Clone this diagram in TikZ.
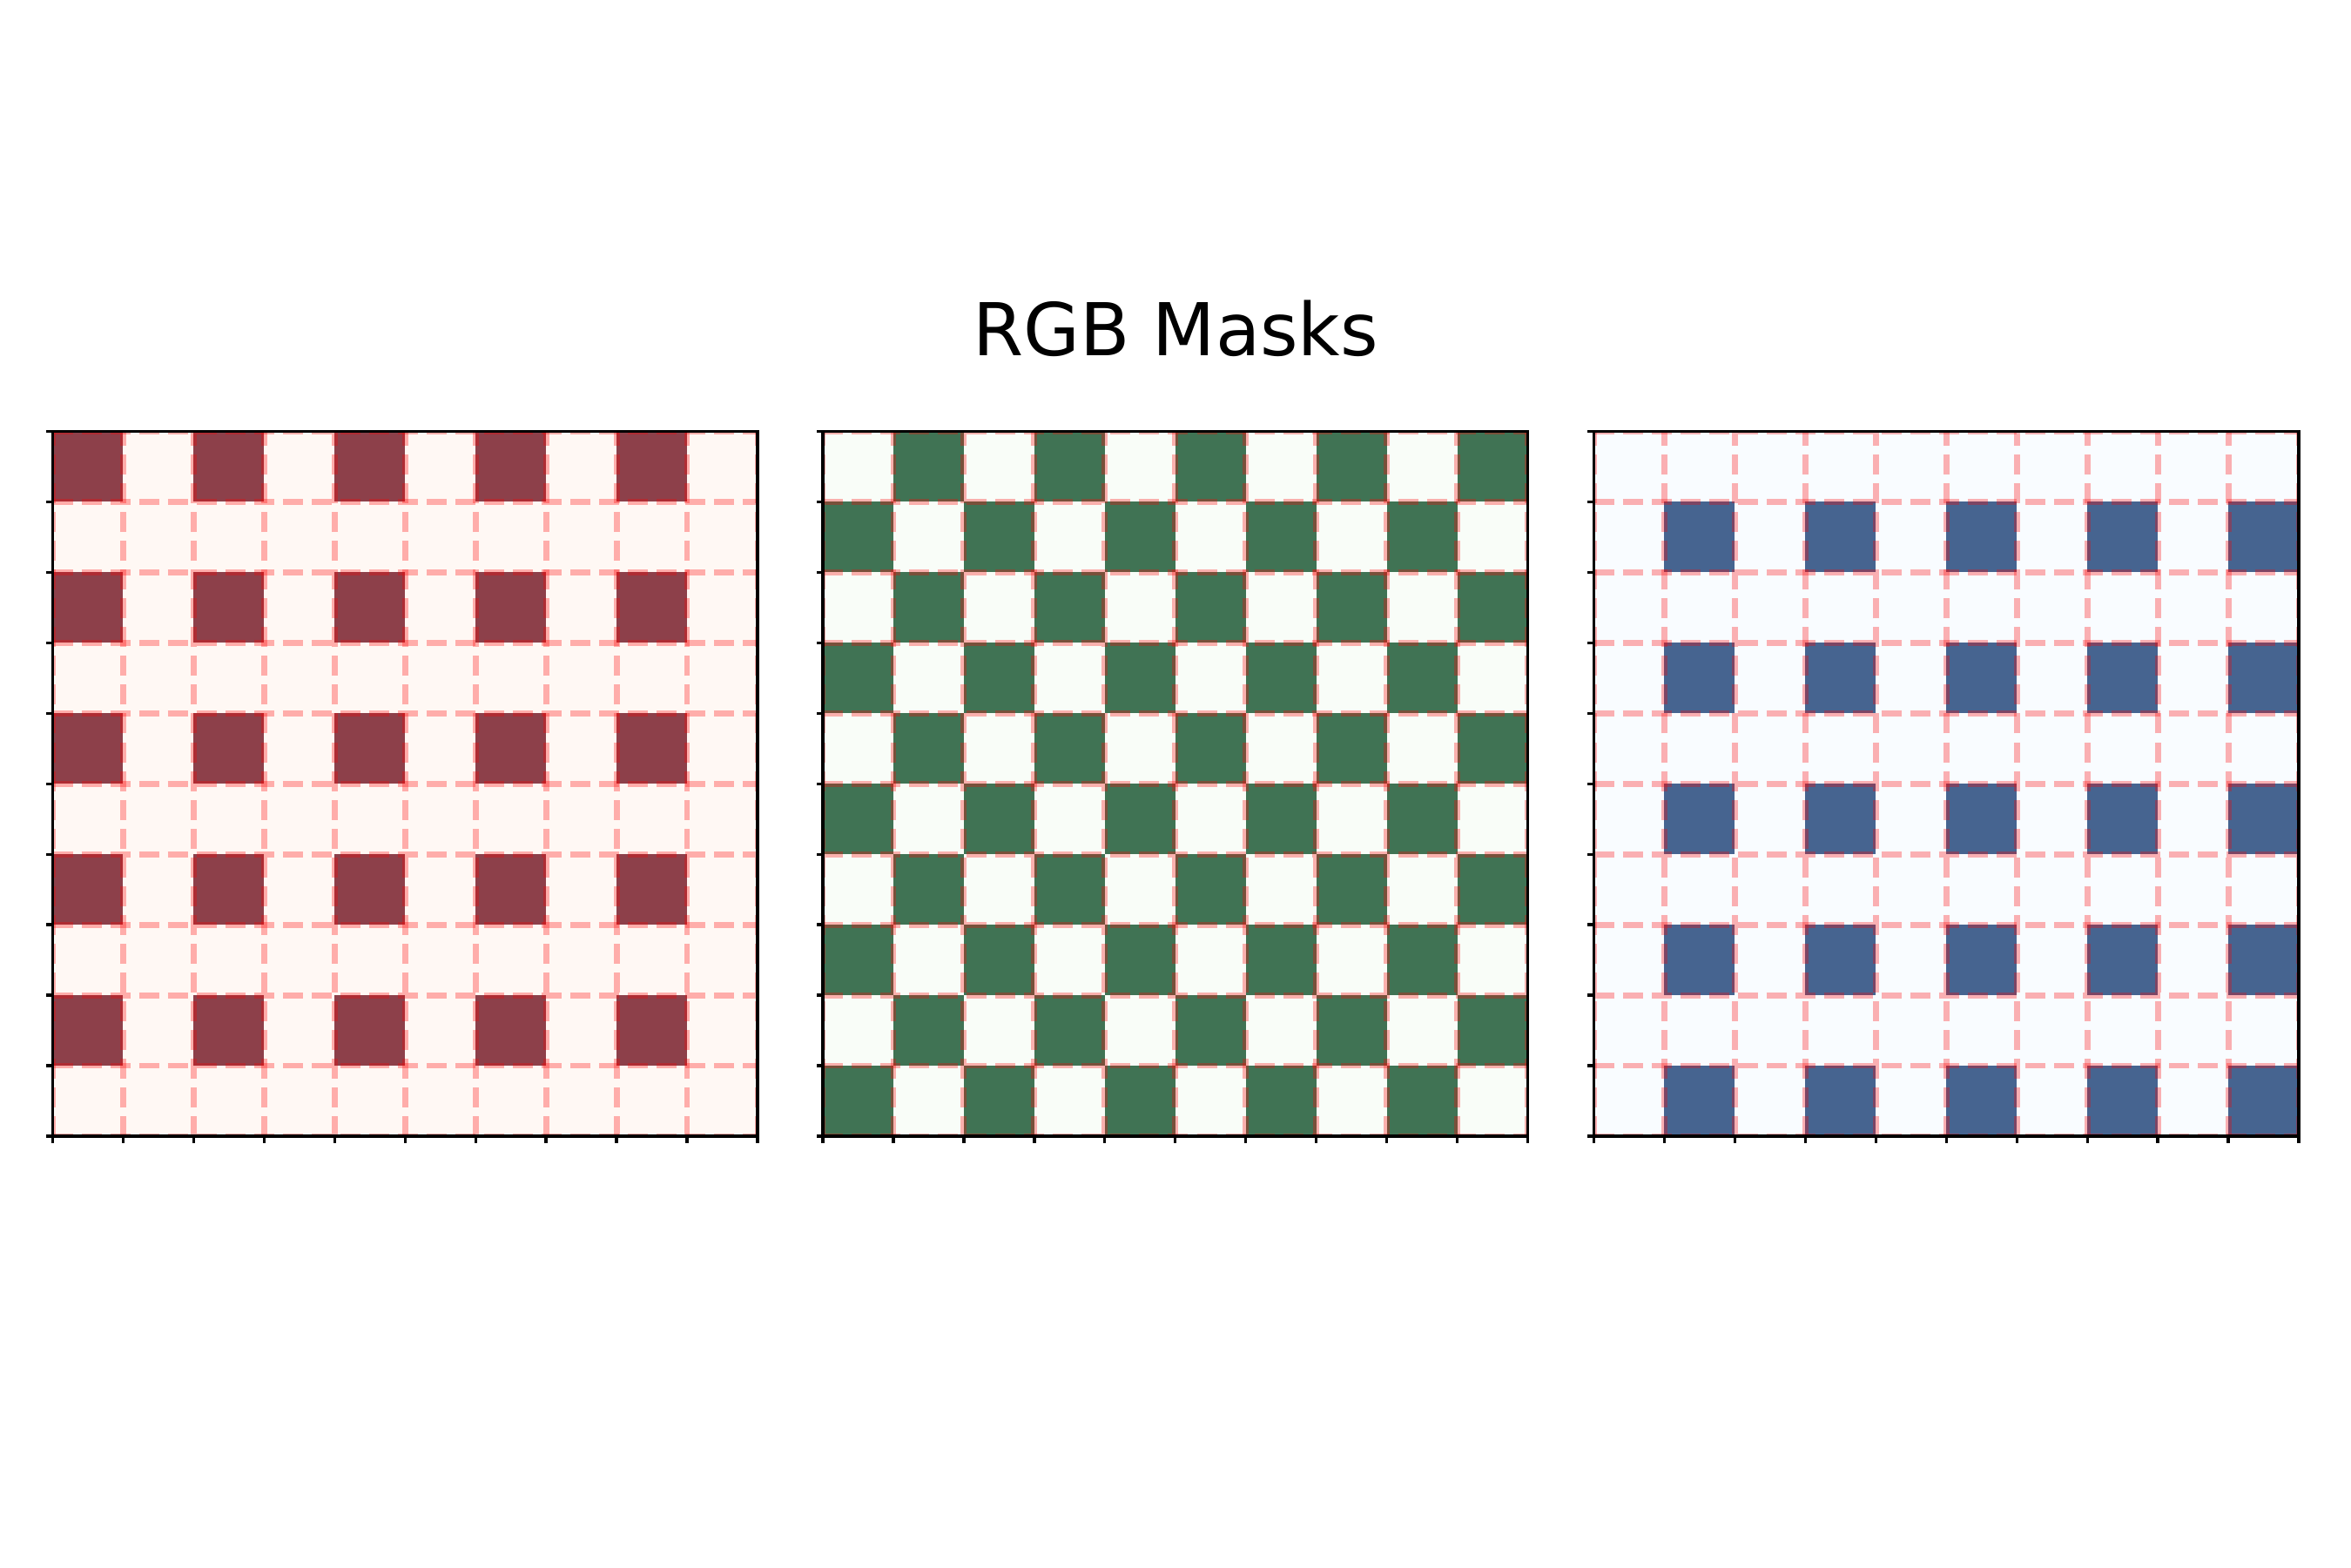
\documentclass[tikz,border=0pt]{standalone}
\usepackage{fontspec}
\setmainfont{DejaVu Sans}
\definecolor{redlo}{RGB}{255,248,244}
\definecolor{redhi}{RGB}{141,64,74}
\definecolor{greenlo}{RGB}{249,253,248}
\definecolor{greenhi}{RGB}{64,115,84}
\definecolor{bluelo}{RGB}{249,252,255}
\definecolor{bluehi}{RGB}{70,100,144}
\tikzset{
  gridline/.style={draw=red, draw opacity=0.3, line width=1.95pt, dash pattern=on 6.55pt off 2.85pt},
  frameline/.style={draw=black, line width=0.95pt},
  tickline/.style={draw=black, line width=0.95pt},
  titletext/.style={font=\fontsize{23.8}{29}\selectfont, anchor=base, inner sep=0pt}
}
% #1 = x0, #2 = low colour, #3 = high colour, #4 = pattern (1 red, 2 green, 3 blue)
\newcommand\maskpanel[4]{%
  \def\pxo{#1}\def\pyo{4.95}\def\pcs{0.8095}%
  \fill[#2] (\pxo,\pyo) rectangle ++(10*\pcs,10*\pcs);
  \foreach \r in {0,...,9}{
    \foreach \c in {0,...,9}{
      \pgfmathtruncatemacro{\dark}{#4==1 ? (mod(\r,2)==0 && mod(\c,2)==0) : (#4==2 ? (mod(\r+\c,2)==1) : (mod(\r,2)==1 && mod(\c,2)==1))}
      \ifnum\dark=1
        \fill[#3] (\pxo+\c*\pcs, \pyo+10*\pcs-\r*\pcs-\pcs) rectangle ++(\pcs,\pcs);
      \fi
    }
  }
  \begin{scope}
    \clip (\pxo,\pyo) rectangle ++(10*\pcs,10*\pcs);
    \foreach \k in {0,...,10}{
      \draw[gridline] (\pxo+\k*\pcs,\pyo) -- (\pxo+\k*\pcs,\pyo+10*\pcs);
    }
    \foreach \k in {0,...,10}{
      \draw[gridline] (\pxo,\pyo+10*\pcs-\k*\pcs) -- (\pxo+10*\pcs,\pyo+10*\pcs-\k*\pcs);
    }
  \end{scope}
  \foreach \k in {0,...,10}{
    \draw[tickline] (\pxo+\k*\pcs,\pyo) -- ++(0,-0.075);
    \draw[tickline] (\pxo,\pyo+\k*\pcs) -- ++(-0.075,0);
  }
  \draw[frameline] (\pxo,\pyo) rectangle ++(10*\pcs,10*\pcs);
}
\begin{document}
\begin{tikzpicture}[x=1cm,y=1cm]
\useasboundingbox (0,0) rectangle (27,18);
\fill[white] (0,0) rectangle (27,18);
\node[titletext] (title) at (13.5,13.91) {RGB Masks};
\maskpanel{0.605}{redlo}{redhi}{1}
\maskpanel{9.45}{greenlo}{greenhi}{2}
\maskpanel{18.305}{bluelo}{bluehi}{3}
\end{tikzpicture}
\end{document}
